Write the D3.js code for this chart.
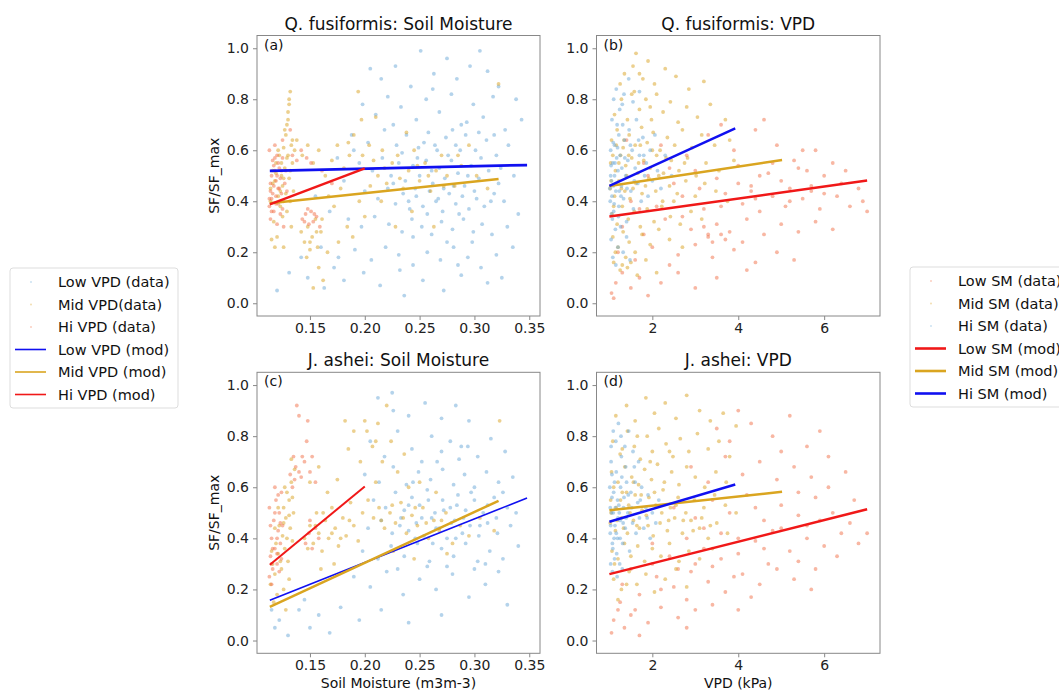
<!DOCTYPE html>
<html>
<head>
<meta charset="utf-8">
<script src="https://cdn.jsdelivr.net/npm/d3@7"></script>
<style>
    body { margin: 0; background: #fff; font-family: "DejaVu Sans", sans-serif; }
    .tick text { font-family: "DejaVu Sans", sans-serif; fill: #222; }
</style>
</head>
<body>
<div id="chart"></div>
<script>
// ---- data ----
const smTicks = [0.15, 0.20, 0.25, 0.30, 0.35];
const vpdTicks = [2, 4, 6];
const yTicks = [0.0, 0.2, 0.4, 0.6, 0.8, 1.0];

// (a) Q. fusiformis vs soil moisture
const aLowVPD = [[0.205,0.92],[0.215,0.88],[0.228,0.93],[0.242,0.85],[0.251,0.99],[0.263,0.90],[0.275,0.96],[0.284,0.88],[0.296,0.93],[0.305,0.99],[0.312,0.91],[0.322,0.85],[0.338,0.80],
    [0.198,0.78],[0.210,0.74],[0.221,0.81],[0.233,0.77],[0.247,0.72],[0.256,0.80],[0.268,0.75],[0.279,0.82],[0.288,0.70],[0.299,0.78],[0.308,0.73],[0.317,0.81],[0.328,0.68],[0.343,0.72],
    [0.188,0.66],[0.203,0.63],[0.218,0.68],[0.229,0.62],[0.238,0.66],[0.249,0.61],[0.258,0.67],[0.266,0.60],[0.274,0.65],[0.283,0.62],[0.292,0.66],[0.301,0.60],[0.311,0.64],[0.320,0.58],[0.331,0.62],
    [0.195,0.55],[0.207,0.52],[0.216,0.57],[0.224,0.50],[0.231,0.55],[0.237,0.48],[0.244,0.54],[0.250,0.50],[0.256,0.56],[0.262,0.47],[0.268,0.53],[0.273,0.49],[0.279,0.56],[0.285,0.51],[0.291,0.46],[0.297,0.54],[0.304,0.49],[0.313,0.52],[0.322,0.47],[0.336,0.50],
    [0.200,0.44],[0.212,0.41],[0.221,0.45],[0.228,0.39],[0.235,0.43],[0.241,0.37],[0.247,0.42],[0.253,0.38],[0.259,0.44],[0.265,0.40],[0.271,0.36],[0.277,0.43],[0.283,0.39],[0.289,0.42],[0.295,0.37],[0.302,0.41],[0.309,0.38],[0.318,0.43],[0.327,0.40],
    [0.185,0.33],[0.197,0.30],[0.209,0.34],[0.222,0.31],[0.234,0.28],[0.243,0.33],[0.252,0.30],[0.261,0.27],[0.270,0.32],[0.280,0.29],[0.290,0.33],[0.299,0.28],[0.307,0.31],[0.316,0.27],[0.330,0.30],
    [0.160,0.22],[0.176,0.18],[0.191,0.21],[0.206,0.17],[0.219,0.22],[0.231,0.19],[0.244,0.15],[0.257,0.20],[0.269,0.17],[0.281,0.22],[0.294,0.18],[0.306,0.14],[0.320,0.19],
    [0.148,0.10],[0.163,0.06],[0.181,0.09],[0.199,0.12],[0.214,0.07],[0.236,0.03],[0.253,0.09],[0.272,0.05],[0.288,0.11],[0.312,0.08],[0.325,0.10],
    [0.120,0.05],[0.131,0.12],[0.142,0.18],[0.172,0.14],[0.155,0.42],[0.168,0.36],[0.181,0.48],[0.175,0.57],[0.190,0.60],
    [0.226,0.47],[0.234,0.59],[0.246,0.45],[0.254,0.63],[0.261,0.52],[0.267,0.41],[0.276,0.58],[0.281,0.46],[0.287,0.60],[0.294,0.50],[0.300,0.44],[0.306,0.57],[0.315,0.40],[0.324,0.53],[0.240,0.40],[0.248,0.57],[0.257,0.35],[0.264,0.62],[0.272,0.45],[0.286,0.35],[0.293,0.71],[0.304,0.67],[0.226,0.70],[0.262,0.84],[0.280,0.68],[0.318,0.66],[0.244,0.26],[0.275,0.24],[0.298,0.24],[0.232,0.13],[0.285,0.15],[0.335,0.22],[0.340,0.35]];
const aMidVPD = [[0.114,0.45],[0.116,0.52],[0.118,0.48],[0.119,0.55],[0.121,0.42],[0.122,0.58],[0.124,0.50],[0.125,0.46],[0.126,0.61],[0.127,0.53],[0.128,0.66],[0.129,0.57],[0.130,0.72],[0.131,0.49],[0.131,0.78],[0.132,0.83],[0.133,0.62],[0.134,0.55],[0.135,0.44],[0.123,0.38],[0.117,0.32],[0.120,0.26],[0.126,0.22],[0.133,0.30],[0.129,0.36],[0.136,0.60],[0.138,0.64],[0.118,0.22],[0.115,0.25],[0.127,0.68],[0.130,0.75],
    [0.142,0.28],[0.145,0.24],[0.148,0.30],[0.150,0.21],[0.152,0.26],[0.155,0.33],[0.157,0.22],[0.160,0.28],[0.147,0.18],[0.158,0.14],[0.162,0.09],[0.153,0.06],[0.166,0.20],
    [0.143,0.58],[0.148,0.62],[0.153,0.55],[0.158,0.60],[0.164,0.50],[0.170,0.56],[0.175,0.62],[0.181,0.53],[0.186,0.58],[0.190,0.66],[0.194,0.83],[0.197,0.72],[0.167,0.42],[0.172,0.38],[0.178,0.45],[0.184,0.30],[0.189,0.26],[0.195,0.40],[0.200,0.34],[0.176,0.24],
    [0.204,0.62],[0.208,0.56],[0.212,0.50],[0.216,0.60],[0.220,0.47],[0.225,0.55],[0.230,0.58],[0.235,0.45],[0.240,0.52],[0.245,0.60],[0.250,0.48],[0.255,0.55],[0.260,0.44],[0.265,0.52],[0.270,0.58],[0.275,0.50],[0.282,0.46],[0.288,0.54],[0.295,0.62],[0.302,0.50],[0.312,0.45],[0.322,0.86],[0.215,0.40],[0.228,0.30],[0.243,0.36],[0.263,0.30],[0.210,0.73],[0.238,0.67],
    [0.114,0.40],[0.116,0.47],[0.119,0.51],[0.121,0.60],[0.123,0.44],[0.124,0.55],[0.126,0.49],[0.128,0.43],[0.130,0.58],[0.132,0.52],[0.134,0.64],[0.129,0.70],[0.131,0.80],[0.125,0.34],[0.132,0.40],
    [0.218,0.53],[0.232,0.49],[0.248,0.54],[0.258,0.50],[0.272,0.46],[0.285,0.58],[0.205,0.46],[0.198,0.58],[0.185,0.63],[0.156,0.28],[0.150,0.24],[0.161,0.33]];
const aHiVPD = [[0.113,0.38],[0.114,0.44],[0.115,0.50],[0.115,0.41],[0.116,0.56],[0.117,0.46],[0.117,0.36],[0.118,0.52],[0.119,0.42],[0.119,0.48],[0.120,0.58],[0.121,0.39],[0.121,0.45],[0.122,0.53],[0.123,0.35],[0.123,0.49],[0.124,0.43],[0.125,0.57],[0.126,0.40],[0.127,0.47],[0.113,0.60],[0.114,0.33],[0.118,0.62],[0.120,0.31],[0.128,0.52],[0.129,0.44],
    [0.143,0.33],[0.146,0.35],[0.149,0.31],[0.151,0.36],[0.153,0.32],[0.156,0.34],[0.159,0.30],[0.148,0.37],
    [0.134,0.58],[0.138,0.56],[0.142,0.60],[0.147,0.57],[0.151,0.55],[0.125,0.64],[0.132,0.68],[0.126,0.30],[0.161,0.52],[0.170,0.47],
    [0.114,0.47],[0.116,0.43],[0.117,0.54],[0.119,0.39],[0.120,0.50],[0.122,0.45],[0.124,0.52],[0.125,0.37],[0.113,0.41],[0.115,0.36],[0.118,0.57],[0.121,0.55],[0.145,0.32],[0.154,0.35]];
const aLowFit = [[0.1134, 0.519], [0.348, 0.542]];
const aMidFit = [[0.1134, 0.392], [0.322, 0.487]];
const aHiFit = [[0.1134, 0.388], [0.200, 0.529]];

// (b) Q. fusiformis vs VPD
const bLowSM = [[2.2,0.62],[2.8,0.58],[3.3,0.66],[3.9,0.60],[4.4,0.68],[4.9,0.62],[5.3,0.56],[5.8,0.60],[6.2,0.55],[4.6,0.72],[3.6,0.70],
    [1.9,0.50],[2.5,0.47],[3.0,0.52],[3.5,0.49],[4.0,0.54],[4.3,0.46],[4.7,0.51],[5.0,0.48],[5.4,0.53],[5.7,0.46],[6.0,0.50],[6.4,0.47],[6.8,0.45],[5.2,0.45],[4.5,0.50],
    [1.5,0.40],[2.1,0.38],[2.7,0.42],[3.2,0.37],[3.7,0.43],[4.1,0.39],[4.5,0.36],[4.8,0.42],[5.1,0.38],[5.5,0.41],[5.9,0.37],[6.3,0.42],[6.6,0.38],[7.0,0.36],[5.7,0.44],[4.3,0.44],
    [1.3,0.30],[1.8,0.27],[2.3,0.33],[2.9,0.29],[3.3,0.26],[3.5,0.31],[3.8,0.28],[4.2,0.33],[4.6,0.27],[5.0,0.31],[5.4,0.28],[5.8,0.32],[6.2,0.29],[3.4,0.24],[3.6,0.27],[3.2,0.30],
    [1.2,0.20],[1.6,0.17],[2.0,0.22],[2.6,0.19],[3.0,0.23],[3.4,0.18],[3.9,0.21],[4.4,0.16],[4.9,0.20],[5.3,0.17],[4.1,0.24],
    [1.05,0.04],[1.15,0.08],[1.3,0.12],[1.5,0.06],[1.7,0.10],[1.9,0.03],[2.2,0.08],[2.6,0.12],[3.0,0.06],[3.5,0.10],[4.2,0.13],[1.1,0.02],
    [1.4,0.64],[1.8,0.55],[2.4,0.53],
    [3.1,0.45],[3.6,0.38],[4.0,0.47],[4.4,0.41],[4.8,0.55],[5.2,0.40],[5.6,0.52],[6.0,0.43],[6.5,0.52],[3.3,0.27],[3.7,0.25],[2.7,0.34],[5.5,0.60],[6.9,0.40],[2.4,0.15],[1.7,0.37]];
const bMidSM = [[1.35,0.90],[1.55,0.93],[1.62,0.98],[1.78,0.88],[1.90,0.95],[2.05,0.86],[2.30,0.92],[2.55,0.89],[2.85,0.84],[3.20,0.87],[1.25,0.86],
    [1.12,0.74],[1.28,0.80],[1.42,0.72],[1.58,0.83],[1.70,0.76],[1.85,0.80],[1.98,0.72],[2.10,0.82],[2.25,0.75],[2.42,0.79],[2.60,0.71],[2.80,0.77],[3.05,0.73],[3.35,0.78],[3.70,0.72],
    [1.05,0.64],[1.18,0.68],[1.32,0.61],[1.46,0.66],[1.60,0.62],[1.75,0.69],[1.88,0.63],[2.02,0.67],[2.18,0.60],[2.35,0.65],[2.52,0.62],[2.70,0.68],[2.92,0.61],[3.15,0.66],[3.45,0.62],[3.80,0.64],
    [1.03,0.55],[1.14,0.52],[1.26,0.58],[1.38,0.54],[1.52,0.57],[1.66,0.51],[1.80,0.56],[1.95,0.53],[2.10,0.58],[2.26,0.51],[2.44,0.56],[2.62,0.52],[2.82,0.57],[3.02,0.50],[3.25,0.55],[3.55,0.52],[3.90,0.56],
    [1.02,0.45],[1.12,0.42],[1.22,0.48],[1.36,0.44],[1.48,0.41],[1.62,0.47],[1.76,0.43],[1.92,0.49],[2.08,0.44],[2.24,0.40],[2.40,0.46],[2.58,0.43],[2.78,0.48],[3.00,0.42],[3.22,0.47],[3.48,0.44],[3.75,0.40],
    [1.06,0.35],[1.18,0.31],[1.30,0.38],[1.44,0.33],[1.58,0.36],[1.72,0.30],[1.88,0.37],[2.04,0.32],[2.22,0.38],[2.42,0.34],[2.65,0.31],[2.90,0.36],[3.15,0.33],
    [1.08,0.26],[1.20,0.22],[1.32,0.28],[1.46,0.24],[1.60,0.20],[1.76,0.27],[1.95,0.23],[2.15,0.29],[2.40,0.25],[2.70,0.22],
    [1.10,0.16],[1.25,0.13],[1.38,0.18],[1.42,0.14],[1.50,0.16],[1.65,0.11],[1.85,0.17],[2.10,0.12],
    [1.04,0.48],[1.08,0.58],[1.10,0.38],[1.16,0.62],[1.22,0.55],[1.28,0.45],[1.34,0.64],[1.40,0.50],[1.45,0.58],[1.55,0.45],[1.68,0.55],[1.72,0.62],[1.84,0.46],[2.00,0.60],[2.15,0.50],[2.32,0.57],[2.50,0.40],[2.75,0.55],[1.14,0.20],[1.30,0.15],[1.52,0.82],[1.70,0.90],[1.95,0.77]];
const bHiSM = [[1.02,0.40],[1.05,0.48],[1.08,0.55],[1.10,0.36],[1.12,0.62],[1.15,0.44],[1.18,0.70],[1.20,0.52],[1.22,0.38],[1.25,0.58],[1.28,0.46],[1.30,0.78],[1.33,0.41],[1.35,0.64],[1.38,0.50],[1.40,0.32],[1.43,0.56],[1.46,0.68],[1.50,0.44],[1.53,0.60],[1.56,0.37],[1.60,0.53],[1.63,0.72],[1.66,0.47],[1.70,0.58],[1.74,0.40],[1.78,0.65],[1.82,0.50],[1.86,0.55],[1.90,0.42],[1.95,0.60],[2.00,0.48],[2.06,0.66],[2.12,0.52],[2.20,0.45],[2.30,0.58],[2.45,0.50],
    [1.04,0.25],[1.08,0.18],[1.14,0.29],[1.20,0.22],[1.26,0.30],[1.32,0.20],[1.40,0.26],[1.48,0.17],[1.06,0.72],[1.10,0.80],[1.16,0.84],[1.24,0.76],[1.34,0.82],[1.45,0.88],[1.55,0.79],[1.70,0.83],[1.03,0.60],[1.07,0.33],[1.12,0.50],[1.17,0.57],[1.22,0.66],[1.27,0.42],[1.01,0.45],[1.04,0.54],[1.09,0.46],
    [1.03,0.50],[1.06,0.42],[1.09,0.63],[1.13,0.55],[1.16,0.47],[1.19,0.61],[1.23,0.44],[1.29,0.53],[1.36,0.57],[1.41,0.45],[1.49,0.62],[1.58,0.48],[1.68,0.64],[1.80,0.58],[1.05,0.35],[1.11,0.39],[1.21,0.34],[1.31,0.70],[1.15,0.15]];
const bLowFit = [[1.0, 0.34], [7.0, 0.481]];
const bMidFit = [[1.0, 0.46], [5.02, 0.562]];
const bHiFit = [[1.0, 0.46], [3.93, 0.686]];

// (c) J. ashei vs soil moisture
const cLowVPD = [[0.212,0.95],[0.226,0.90],[0.240,0.88],[0.255,0.93],[0.270,0.87],[0.283,0.92],[0.295,0.86],[0.225,0.97],
    [0.205,0.78],[0.218,0.72],[0.230,0.82],[0.243,0.75],[0.252,0.70],[0.261,0.80],[0.270,0.74],[0.278,0.78],[0.286,0.71],[0.294,0.76],[0.303,0.72],[0.315,0.79],[0.328,0.74],
    [0.200,0.65],[0.213,0.62],[0.226,0.68],[0.238,0.61],[0.249,0.66],[0.260,0.63],[0.271,0.67],[0.281,0.61],[0.291,0.65],[0.300,0.60],[0.311,0.66],[0.322,0.62],[0.335,0.64],
    [0.208,0.55],[0.219,0.52],[0.228,0.58],[0.236,0.51],[0.243,0.56],[0.250,0.53],[0.257,0.59],[0.264,0.50],[0.271,0.55],[0.278,0.52],[0.285,0.57],[0.292,0.51],[0.300,0.55],[0.308,0.50],[0.318,0.56],[0.330,0.52],
    [0.203,0.44],[0.215,0.47],[0.225,0.42],[0.233,0.48],[0.240,0.43],[0.247,0.46],[0.254,0.41],[0.261,0.48],[0.268,0.44],[0.275,0.40],[0.282,0.47],[0.289,0.42],[0.296,0.45],[0.304,0.41],[0.312,0.46],[0.321,0.42],[0.333,0.45],
    [0.198,0.35],[0.212,0.32],[0.224,0.37],[0.236,0.33],[0.248,0.38],[0.259,0.31],[0.270,0.36],[0.281,0.33],[0.292,0.38],[0.303,0.31],[0.314,0.35],[0.326,0.32],[0.340,0.37],
    [0.190,0.25],[0.205,0.21],[0.220,0.27],[0.235,0.18],[0.250,0.24],[0.265,0.20],[0.280,0.26],[0.295,0.17],[0.310,0.22],[0.322,0.27],[0.330,0.14],[0.300,0.28],[0.257,0.29],
    [0.118,0.05],[0.122,0.08],[0.130,0.02],[0.140,0.12],[0.145,0.16],[0.150,0.05],[0.158,0.10],[0.168,0.03],[0.178,0.13],[0.195,0.08],[0.215,0.12],[0.240,0.07],[0.270,0.10],[0.115,0.12],
    [0.232,0.45],[0.240,0.53],[0.246,0.40],[0.252,0.48],[0.258,0.55],[0.265,0.44],[0.272,0.51],[0.279,0.46],[0.284,0.53],[0.290,0.48],[0.297,0.58],[0.305,0.45],[0.312,0.53],[0.320,0.48],[0.244,0.62],[0.266,0.70],[0.288,0.76],[0.262,0.38],[0.283,0.40],[0.230,0.28],[0.275,0.29],[0.310,0.30],[0.338,0.50],[0.326,0.58]];
const cMidVPD = [[0.114,0.22],[0.116,0.30],[0.118,0.26],[0.119,0.38],[0.121,0.34],[0.122,0.45],[0.124,0.28],[0.125,0.41],[0.126,0.52],[0.127,0.36],[0.128,0.48],[0.129,0.58],[0.130,0.31],[0.131,0.55],[0.132,0.44],[0.133,0.62],[0.134,0.39],[0.135,0.50],[0.120,0.18],[0.117,0.15],[0.126,0.20],[0.131,0.24],[0.136,0.67],[0.133,0.71],[0.128,0.12],
    [0.145,0.40],[0.148,0.36],[0.150,0.45],[0.153,0.38],[0.156,0.50],[0.158,0.42],[0.161,0.35],[0.164,0.47],[0.167,0.40],[0.170,0.52],[0.173,0.44],[0.176,0.37],[0.180,0.48],[0.183,0.41],[0.187,0.54],[0.190,0.45],[0.194,0.39],[0.198,0.50],[0.150,0.62],[0.158,0.68],[0.166,0.58],[0.175,0.63],[0.185,0.75],[0.190,0.82],[0.196,0.70],[0.182,0.86],[0.160,0.28],[0.172,0.30],
    [0.202,0.82],[0.207,0.76],[0.212,0.85],[0.216,0.70],[0.220,0.92],[0.224,0.78],[0.230,0.66],[0.236,0.73],[0.203,0.55],[0.208,0.48],[0.213,0.52],[0.218,0.44],[0.223,0.50],[0.228,0.46],[0.233,0.54],[0.238,0.42],[0.243,0.49],[0.248,0.45],[0.253,0.52],[0.258,0.40],[0.263,0.47],[0.268,0.43],[0.274,0.50],[0.280,0.38],[0.287,0.45],[0.295,0.41],[0.305,0.48],[0.318,0.43],[0.323,0.86],[0.240,0.60],[0.250,0.62],[0.265,0.58],[0.210,0.62],[0.226,0.35],[0.245,0.32],[0.275,0.34],
    [0.115,0.35],[0.118,0.44],[0.121,0.52],[0.123,0.31],[0.126,0.46],[0.129,0.40],[0.131,0.49],[0.134,0.56],[0.127,0.60],[0.155,0.45],[0.162,0.50],[0.170,0.42],[0.178,0.40],[0.186,0.47],[0.215,0.47],[0.225,0.53],[0.235,0.48],[0.246,0.52],[0.256,0.46],[0.270,0.47],[0.210,0.78],[0.200,0.86]];
const cHiVPD = [[0.113,0.25],[0.114,0.33],[0.115,0.40],[0.116,0.28],[0.117,0.47],[0.118,0.36],[0.119,0.55],[0.120,0.30],[0.121,0.43],[0.122,0.50],[0.123,0.38],[0.124,0.58],[0.125,0.45],[0.113,0.52],[0.115,0.22],[0.118,0.60],[0.120,0.34],[0.122,0.27],
    [0.132,0.65],[0.135,0.72],[0.137,0.68],[0.140,0.88],[0.142,0.64],[0.145,0.70],[0.148,0.86],[0.150,0.66],[0.152,0.72],[0.155,0.62],[0.147,0.78],[0.138,0.92],[0.134,0.60],
    [0.146,0.38],[0.149,0.42],[0.152,0.36],[0.155,0.44],[0.158,0.40],[0.150,0.47],
    [0.114,0.45],[0.116,0.36],[0.118,0.50],[0.120,0.40],[0.121,0.57],[0.123,0.46],[0.124,0.32],[0.115,0.30],[0.140,0.66],[0.143,0.72],[0.136,0.63]];
const cLowFit = [[0.1134, 0.158], [0.348, 0.558]];
const cMidFit = [[0.1134, 0.132], [0.322, 0.547]];
const cHiFit = [[0.1134, 0.297], [0.200, 0.603]];

// (d) J. ashei vs VPD
const dLowSM = [[3.8,0.78],[4.3,0.85],[4.8,0.80],[5.2,0.88],[5.6,0.76],[5.9,0.82],[6.1,0.72],[4.0,0.90],[3.5,0.83],
    [2.9,0.68],[3.3,0.62],[3.7,0.72],[4.1,0.65],[4.5,0.70],[4.9,0.63],[5.3,0.68],[5.7,0.64],[6.1,0.60],[6.5,0.66],[5.0,0.74],
    [2.5,0.52],[3.0,0.48],[3.4,0.55],[3.8,0.50],[4.2,0.57],[4.6,0.47],[5.0,0.53],[5.4,0.49],[5.8,0.56],[6.2,0.50],[6.6,0.46],[7.0,0.42],[4.4,0.52],[5.6,0.45],
    [2.0,0.38],[2.4,0.33],[2.8,0.40],[3.2,0.36],[3.6,0.42],[4.0,0.34],[4.4,0.39],[4.8,0.43],[5.2,0.35],[5.6,0.40],[6.0,0.37],[6.4,0.42],[6.8,0.38],[3.0,0.30],[5.4,0.31],
    [1.3,0.22],[1.7,0.18],[2.1,0.25],[2.5,0.21],[2.9,0.27],[3.3,0.23],[3.7,0.19],[4.1,0.26],[4.5,0.22],[4.9,0.28],[5.3,0.24],[5.7,0.20],[4.3,0.17],[1.5,0.28],[2.8,0.16],
    [1.05,0.03],[1.1,0.08],[1.2,0.12],[1.35,0.05],[1.5,0.10],[1.7,0.02],[1.9,0.07],[2.2,0.13],[2.6,0.09],[3.0,0.12],[2.8,0.05],[1.25,0.15],
    [3.2,0.44],[3.6,0.32],[4.0,0.40],[4.6,0.36],[5.0,0.44],[5.4,0.58],[5.9,0.47],[6.3,0.33],[6.7,0.55],[3.4,0.29],[3.9,0.25],[4.7,0.30],[5.8,0.28],[2.6,0.28],[2.2,0.20],[1.6,0.12],[3.4,0.14],[4.0,0.12],[2.0,0.30]];
const dMidSM = [[1.15,0.88],[1.40,0.92],[1.60,0.86],[1.85,0.95],[2.05,0.89],[2.30,0.93],[2.55,0.87],[2.80,0.96],[3.10,0.90],[3.35,0.86],[3.65,0.89],
    [1.08,0.78],[1.25,0.73],[1.42,0.82],[1.58,0.76],[1.72,0.71],[1.88,0.80],[2.00,0.74],[2.15,0.83],[2.32,0.77],[2.48,0.72],[2.65,0.79],[2.85,0.74],[3.05,0.81],[3.30,0.75],[3.55,0.78],[3.80,0.72],[3.95,0.84],
    [1.05,0.66],[1.20,0.62],[1.36,0.68],[1.52,0.64],[1.68,0.61],[1.82,0.67],[1.98,0.63],[2.12,0.69],[2.28,0.62],[2.45,0.66],[2.62,0.61],[2.80,0.68],[3.00,0.64],[3.22,0.60],[3.48,0.66],[3.72,0.62],
    [1.03,0.55],[1.16,0.52],[1.30,0.58],[1.45,0.53],[1.60,0.57],[1.76,0.51],[1.92,0.56],[2.08,0.53],[2.25,0.59],[2.42,0.52],[2.60,0.56],[2.78,0.50],[2.98,0.55],[3.20,0.52],[3.45,0.57],[3.70,0.53],[3.95,0.50],
    [1.02,0.46],[1.14,0.43],[1.28,0.48],[1.42,0.42],[1.56,0.47],[1.70,0.44],[1.86,0.49],[2.02,0.41],[2.18,0.46],[2.35,0.43],[2.52,0.48],[2.70,0.42],[2.90,0.47],[3.10,0.44],[3.30,0.40],[3.50,0.46],[3.75,0.42],
    [1.06,0.35],[1.20,0.32],[1.35,0.38],[1.50,0.33],[1.66,0.37],[1.82,0.31],[2.00,0.36],[2.20,0.33],[2.40,0.38],[2.62,0.31],[2.85,0.35],[3.10,0.32],[3.40,0.36],
    [1.10,0.24],[1.28,0.20],[1.46,0.27],[1.64,0.22],[1.85,0.26],[2.05,0.19],[2.30,0.24],[2.55,0.28],[2.80,0.21],[1.20,0.16],
    [1.04,0.50],[1.10,0.60],[1.18,0.47],[1.26,0.55],[1.33,0.44],[1.40,0.58],[1.48,0.50],[1.56,0.62],[1.64,0.45],[1.74,0.57],[1.90,0.45],[2.05,0.58],[2.22,0.50],[2.38,0.47],[2.55,0.53],[2.72,0.47],[2.95,0.43],[3.15,0.48],[3.35,0.45],[1.30,0.75],[1.65,0.80],[1.95,0.70],[2.40,0.74],[1.12,0.30],[1.40,0.22]];
const dHiSM = [[1.02,0.42],[1.05,0.50],[1.08,0.36],[1.10,0.58],[1.13,0.45],[1.16,0.66],[1.19,0.40],[1.22,0.53],[1.25,0.47],[1.28,0.72],[1.31,0.38],[1.34,0.56],[1.37,0.44],[1.40,0.62],[1.43,0.50],[1.47,0.35],[1.50,0.58],[1.54,0.46],[1.58,0.68],[1.62,0.42],[1.66,0.54],[1.70,0.48],[1.75,0.60],[1.80,0.44],[1.85,0.52],[1.90,0.57],[1.95,0.40],[2.00,0.50],[2.08,0.46],[2.15,0.55],
    [1.03,0.30],[1.07,0.27],[1.12,0.32],[1.18,0.25],[1.24,0.30],[1.30,0.28],[1.04,0.76],[1.09,0.82],[1.15,0.78],[1.21,0.85],[1.27,0.80],[1.36,0.76],[1.45,0.82],[1.01,0.60],[1.06,0.65],[1.11,0.40],[1.14,0.52],[1.20,0.48],[1.26,0.60],[1.32,0.46],[1.38,0.68],[1.55,0.74],[1.68,0.70],[1.02,0.52],
    [1.03,0.45],[1.06,0.56],[1.09,0.50],[1.12,0.62],[1.16,0.42],[1.19,0.55],[1.23,0.50],[1.29,0.64],[1.33,0.52],[1.39,0.48],[1.44,0.57],[1.52,0.52],[1.60,0.62],[1.72,0.55],[1.88,0.48],[1.07,0.38],[1.17,0.34],[1.25,0.40],[1.04,0.70]];
const dLowFit = [[1.0, 0.26], [7.0, 0.514]];
const dMidFit = [[1.0, 0.51], [5.02, 0.582]];
const dHiFit = [[1.0, 0.465], [3.93, 0.611]];

const vpdLegendLabels = ["Low VPD (data)", "Mid VPD(data)", "Hi VPD (data)", "Low VPD (mod)", "Mid VPD (mod)", "Hi VPD (mod)"];
const smLegendLabels = ["Low SM (data)", "Mid SM (data)", "Hi SM (data)", "Low SM (mod)", "Mid SM (mod)", "Hi SM (mod)"];

// ---- styling ----
const DOT = { blue: "#6aa8d8", gold: "#d9a21f", red: "#f27048" };
const LINE = { blue: "#1010f0", gold: "#daa520", red: "#f01818" };

const W = 1059, H = 694;
const COLS = [[257, 540], [596.5, 880]];
const ROWS = [[35.5, 316], [372.3, 653.3]];

const panels = [
    { tag: "(a)", title: "Q. fusiformis: Soil Moisture", col: 0, row: 0, kind: "sm",
      dots: [[aLowVPD, "blue"], [aMidVPD, "gold"], [aHiVPD, "red"]],
      fits: [[aLowFit, "blue", 2.8], [aMidFit, "gold", 2.5], [aHiFit, "red", 2.5]] },
    { tag: "(b)", title: "Q. fusiformis: VPD", col: 1, row: 0, kind: "vpd",
      dots: [[bLowSM, "red"], [bMidSM, "gold"], [bHiSM, "blue"]],
      fits: [[bLowFit, "red", 2.5], [bMidFit, "gold", 2.5], [bHiFit, "blue", 2.5]] },
    { tag: "(c)", title: "J. ashei: Soil Moisture", col: 0, row: 1, kind: "sm",
      dots: [[cLowVPD, "blue"], [cMidVPD, "gold"], [cHiVPD, "red"]],
      fits: [[cLowFit, "blue", 1.6], [cMidFit, "gold", 2.5], [cHiFit, "red", 2]] },
    { tag: "(d)", title: "J. ashei: VPD", col: 1, row: 1, kind: "vpd",
      dots: [[dLowSM, "red"], [dMidSM, "gold"], [dHiSM, "blue"]],
      fits: [[dLowFit, "red", 2.5], [dMidFit, "gold", 2.5], [dHiFit, "blue", 2.5]] }
];

const svg = d3.select("#chart").append("svg")
    .attr("width", W)
    .attr("height", H)
    .style("font-family", "DejaVu Sans, sans-serif");

panels.forEach(p => {
    const [x0, x1] = COLS[p.col];
    const [y0, y1] = ROWS[p.row];

    const x = d3.scaleLinear()
        .domain(p.kind === "sm" ? [0.1017, 0.3598] : [0.7, 7.3])
        .range([x0, x1]);
    const y = d3.scaleLinear().domain([-0.05, 1.05]).range([y1, y0]);

    const g = svg.append("g");

    // clip so nothing spills past the frame
    const clipId = "clip-" + p.col + p.row;
    g.append("clipPath").attr("id", clipId)
        .append("rect").attr("x", x0).attr("y", y0).attr("width", x1 - x0).attr("height", y1 - y0);

    const plot = g.append("g").attr("clip-path", `url(#${clipId})`);

    p.dots.forEach(([pts, c]) => {
        plot.append("g").selectAll("circle")
            .data(pts)
            .join("circle")
            .attr("cx", d => x(d[0]))
            .attr("cy", d => y(d[1]))
            .attr("r", 1.9)
            .attr("fill", DOT[c])
            .attr("fill-opacity", 0.5);
    });

    const line = d3.line().x(d => x(d[0])).y(d => y(d[1]));
    p.fits.forEach(([pts, c, w]) => {
        plot.append("path")
            .attr("d", line(pts))
            .attr("fill", "none")
            .attr("stroke", LINE[c])
            .attr("stroke-width", w);
    });

    // axes
    const xAxis = d3.axisBottom(x)
        .tickValues(p.kind === "sm" ? smTicks : vpdTicks)
        .tickFormat(p.kind === "sm" ? d3.format(".2f") : d3.format("d"))
        .tickSize(4).tickPadding(3);
    const yAxis = d3.axisLeft(y)
        .tickValues(yTicks)
        .tickFormat(d3.format(".1f"))
        .tickSize(4).tickPadding(4);

    [g.append("g").attr("transform", `translate(0,${y1})`).call(xAxis),
     g.append("g").attr("transform", `translate(${x0},0)`).call(yAxis)].forEach(ax => {
        ax.select(".domain").remove();
        ax.selectAll(".tick line").attr("stroke", "#888");
        ax.selectAll(".tick text").style("font-size", "14px").attr("fill", "#222");
    });

    // frame
    g.append("rect")
        .attr("x", x0).attr("y", y0)
        .attr("width", x1 - x0).attr("height", y1 - y0)
        .attr("fill", "none")
        .attr("stroke", "#888")
        .attr("stroke-width", 1);

    g.append("text")
        .attr("x", (x0 + x1) / 2)
        .attr("y", y0 - 6)
        .attr("text-anchor", "middle")
        .style("font-size", "17px")
        .attr("fill", "#111")
        .text(p.title);

    g.append("text")
        .attr("x", x0 + 7)
        .attr("y", y0 + 14)
        .style("font-size", "14px")
        .attr("fill", "#111")
        .text(p.tag);

    if (p.col === 0) {
        g.append("text")
            .attr("transform", `translate(${x0 - 38},${(y0 + y1) / 2}) rotate(-90)`)
            .attr("text-anchor", "middle")
            .style("font-size", "14px")
            .attr("fill", "#111")
            .text("SF/SF_max");
    }
    if (p.row === 1) {
        g.append("text")
            .attr("x", (x0 + x1) / 2)
            .attr("y", y1 + 35)
            .attr("text-anchor", "middle")
            .style("font-size", "14px")
            .attr("fill", "#111")
            .text(p.kind === "sm" ? "Soil Moisture (m3m-3)" : "VPD (kPa)");
    }
});

// legends
function drawLegend(left, top, labels, dotColors, lineColors, lineW) {
    const lg = svg.append("g");
    lg.append("rect")
        .attr("x", left).attr("y", top)
        .attr("width", 168).attr("height", 140)
        .attr("rx", 3)
        .attr("fill", "#fff")
        .attr("stroke", "#ddd");
    labels.forEach((lab, i) => {
        const cy = top + 14 + i * 22.5;
        if (i < 3) {
            lg.append("circle")
                .attr("cx", left + 21).attr("cy", cy)
                .attr("r", 1)
                .attr("fill", DOT[dotColors[i]])
                .attr("fill-opacity", 0.35);
        } else {
            lg.append("line")
                .attr("x1", left + 5).attr("x2", left + 36)
                .attr("y1", cy).attr("y2", cy)
                .attr("stroke", LINE[lineColors[i - 3]])
                .attr("stroke-width", lineW);
        }
        lg.append("text")
            .attr("x", left + 48)
            .attr("y", cy + 5)
            .style("font-size", "14.5px")
            .attr("fill", "#111")
            .text(lab);
    });
}

drawLegend(10, 268, vpdLegendLabels, ["blue", "gold", "red"], ["blue", "gold", "red"], 1.6);
drawLegend(910, 267, smLegendLabels, ["red", "gold", "blue"], ["red", "gold", "blue"], 2.6);
</script>
</body>
</html>
